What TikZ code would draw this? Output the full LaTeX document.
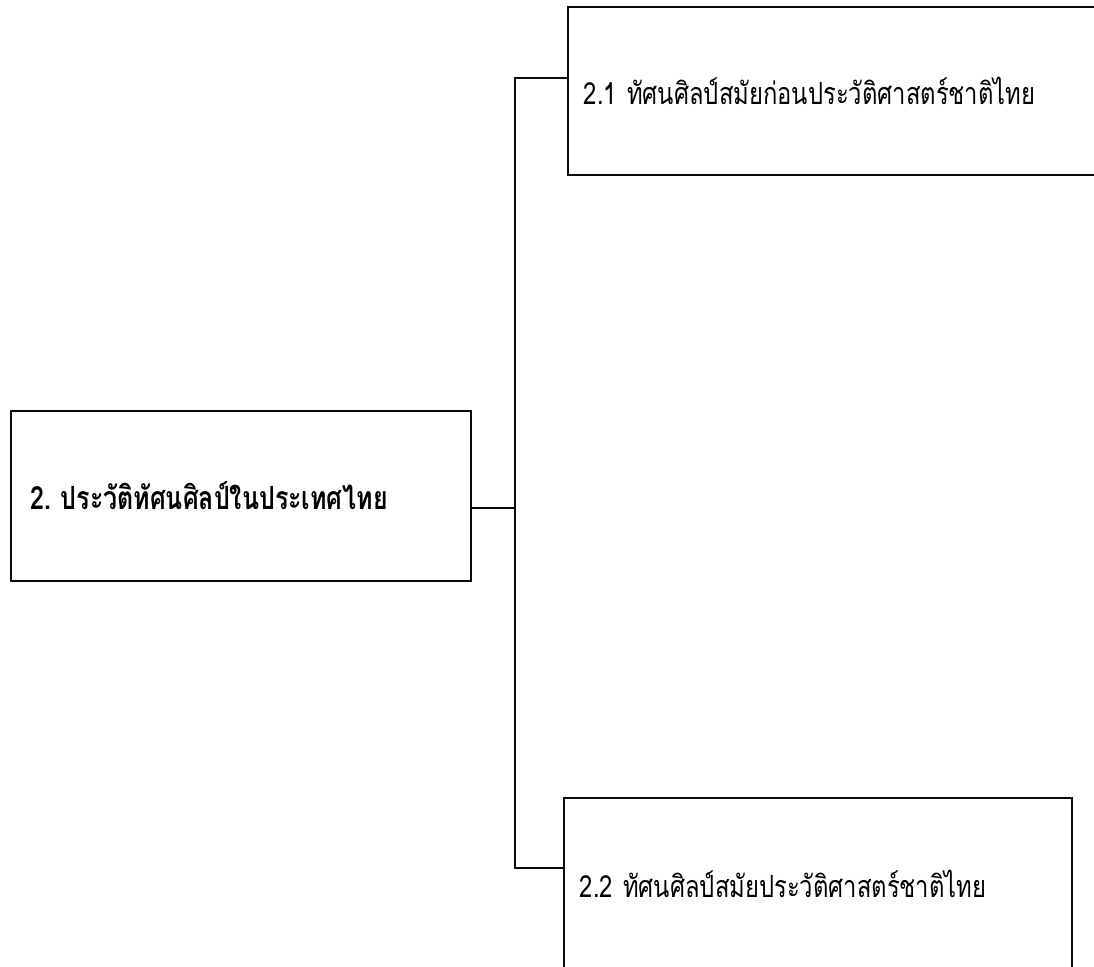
\documentclass[tikz,border=0pt]{standalone}
\usepackage{fontspec}
\usepackage{tikz}
\usetikzlibrary{positioning, calc}
\newfontfamily\thaifont[Script=Thai, FakeStretch=0.78]{Loma}
\definecolor{garis}{HTML}{0A0A0A}

\begin{document}
\begin{tikzpicture}[x=1pt, y=-1pt,
    kotak/.style={draw=garis, line width=1.9pt, anchor=north west, align=left,
      inner ysep=0pt, font=\thaifont\fontsize{30.5}{34}\selectfont},
    sambung/.style={draw=garis, line width=1.7pt}]
    \path[use as bounding box] (0,0) rectangle (1094,966);
    \clip (0,0) rectangle (1094,966);
    % boxes
    \node[kotak, inner xsep=20pt, text width=420pt, minimum height=170pt,
      font=\thaifont\bfseries\fontsize{32}{36}\selectfont] (sejarah) at (10,410)
      {2.\hspace{9pt}ประวัติทัศนศิลป์ในประเทศไทย};
    \node[kotak, inner xsep=16pt, text width=501pt, minimum height=168pt] (prasejarah) at (567,6)
      {2.1 ทัศนศิลป์สมัยก่อนประวัติศาสตร์ชาติไทย};
    \node[kotak, inner xsep=16pt, text width=476pt, minimum height=171pt] (sejarahthai) at (563,797)
      {2.2 ทัศนศิลป์สมัยประวัติศาสตร์ชาติไทย};
    % connectors
    \coordinate (cabang) at (515,508);
    \coordinate (atas) at (515,78);
    \coordinate (bawah) at (515,868);
    \draw[sambung] (sejarah.east |- cabang) -- (cabang);
    \draw[sambung] (prasejarah.west |- atas) -- (atas) -- (bawah) -- (sejarahthai.west |- bawah);
\end{tikzpicture}
\end{document}
